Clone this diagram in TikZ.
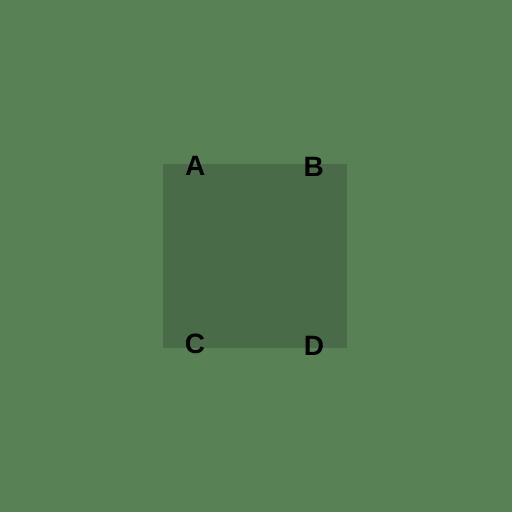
\documentclass[tikz,border=0pt]{standalone}
\usepackage{fontspec}
\setmainfont{Liberation Sans}
\usetikzlibrary{positioning}
\definecolor{fieldgreen}{HTML}{588155}
\definecolor{plotgreen}{HTML}{4A6B47}
\tikzset{
  cornerlabel/.style={font=\fontsize{28}{28}\selectfont\bfseries,text=black,inner sep=0pt}
}

\begin{document}
\begin{tikzpicture}[x=1pt,y=-1pt]
  \fill[fieldgreen] (0,0) rectangle (512,512);
  \useasboundingbox (0,0) rectangle (512,512);
  \node[fill=plotgreen,minimum width=184pt,minimum height=184pt,inner sep=0pt] (plot) at (255,256) {};
  \node[cornerlabel] (A) at (195.3,165.5) {A};
  \node[cornerlabel] (B) at (313.8,167) {B};
  \node[cornerlabel] (C) at (195,343.7) {C};
  \node[cornerlabel] (D) at (314,345.8) {D};
\end{tikzpicture}
\end{document}
